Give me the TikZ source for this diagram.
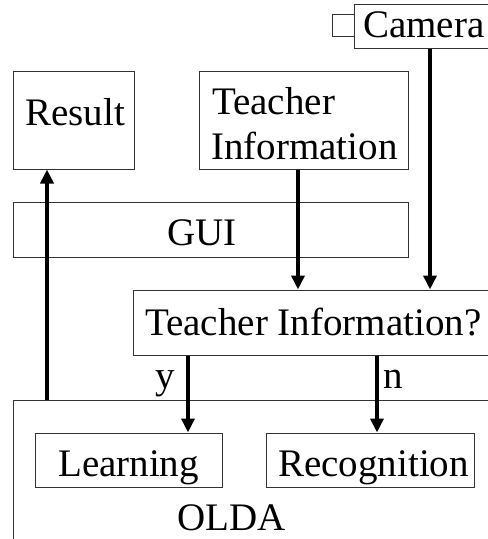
\documentclass[tikz,border=0pt]{standalone}
\usepackage{fontspec}
\setmainfont{Liberation Serif}
\usetikzlibrary{arrows.meta}
\begin{document}
\begin{tikzpicture}[x=1pt,y=-1pt,
  box/.style={draw=black!80,line width=1pt,rectangle,inner sep=0pt},
  lbl/.style={inner sep=0pt,anchor=base west,font=\fontsize{39}{45}\selectfont},
  arr/.style={line width=3.5pt,-{Triangle[width=13pt,length=14pt]},shorten >=0pt}]
\useasboundingbox (0,0) rectangle (488,539);
\clip (0,0) rectangle (488,539);
\fill[white] (0,0) rectangle (488,539);

% boxes (some run past the frame on the right and bottom)
\node[box,minimum width=152pt,minimum height=44pt] (cam) at (430,26) {};
\node[box,minimum width=22pt,minimum height=22pt] (camsq) at (343,25) {};
\node[box,minimum width=121pt,minimum height=98pt] (result) at (73.5,120) {};
\node[box,minimum width=209pt,minimum height=98pt] (tinfo) at (303.5,120) {};
\node[box,minimum width=395pt,minimum height=55pt] (gui) at (210.5,229.5) {};
\node[box,minimum width=594pt,minimum height=65pt] (query) at (430,322.5) {};
\node[box,minimum width=560pt,minimum height=200pt] (olda) at (293,500) {};
\node[box,minimum width=187pt,minimum height=54pt] (learn) at (128.5,460) {};
\node[box,minimum width=208pt,minimum height=54pt] (recog) at (370,460) {};

% labels
\node[lbl] (tcam) at (363,37) {Camera};
\node[lbl] (tres) at (25,125) {Result};
\node[lbl] (tti1) at (212,114) {Teacher};
\node[lbl] (tti2) at (211,159) {Information};
\node[lbl] (tgui) at (167,245) {GUI};
\node[lbl] (tq) at (145,335) {Teacher Information?};
\node[lbl] (ty) at (155,388) {y};
\node[lbl] (tn) at (383,388) {n};
\node[lbl] (tlearn) at (58,476) {Learning};
\node[lbl] (trecog) at (278,476) {Recognition};
\node[lbl] (tolda) at (177,530) {OLDA};

% connector columns
\coordinate (xres) at (47,0);
\coordinate (xti) at (298,0);
\coordinate (xy) at (188,0);
\coordinate (xn) at (377,0);

% connectors
\draw[arr] (cam.south) -- (query.north);
\draw[arr] (tinfo.south -| xti) -- (query.north -| xti);
\draw[arr] (olda.north -| xres) -- (result.south -| xres);
\draw[arr] (query.south -| xy) -- (learn.north -| xy);
\draw[arr] (query.south -| xn) -- (recog.north -| xn);
\end{tikzpicture}
\end{document}
